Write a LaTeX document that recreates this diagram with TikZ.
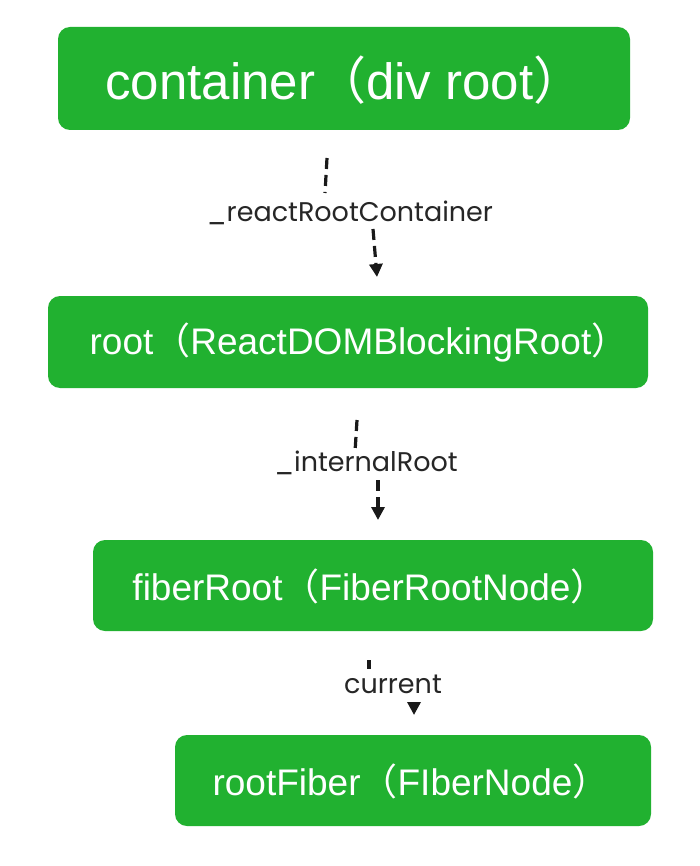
\documentclass[tikz,border=0pt]{standalone}
\usepackage{fontspec}
\setmainfont{Liberation Sans}
\newfontfamily\cjk{Noto Sans CJK SC}
\newfontfamily\lblfont{Poppins}
\usetikzlibrary{arrows.meta}
\definecolor{boxgreen}{RGB}{33,177,48}
\tikzset{
  box/.style={fill=boxgreen, draw=none, rounded corners=12pt, inner sep=0pt},
  boxtext/.style={text=white, inner sep=0pt, anchor=center},
  lbl/.style={font=\lblfont\fontsize{27}{31}\selectfont, inner sep=2pt, text=black!85},
  conn/.style={line width=3.2pt, dash pattern=on 11pt off 6pt, draw=black!90},
  connarrow/.style={conn, -{Triangle[length=13pt,width=13pt]}}
}
\begin{document}
\begin{tikzpicture}[x=1pt,y=-1pt]
\useasboundingbox (0,0) rectangle (700,866);
\fill[white] (0,0) rectangle (700,866);
% boxes
\node[box, minimum width=572pt, minimum height=103pt] (b1) at (344,78.5) {};
\node[boxtext, font=\fontsize{51}{57}\selectfont] (t1) at (345,80) {container{\cjk（}div root{\cjk）}};
\node[box, minimum width=600pt, minimum height=92pt] (b2) at (348,342) {};
\node[boxtext, font=\fontsize{37}{43}\selectfont] (t2) at (359,343) {root{\cjk（}ReactDOMBlockingRoot{\cjk）}};
\node[box, minimum width=560pt, minimum height=91pt] (b3) at (373,585.5) {};
\node[boxtext, font=\fontsize{37}{43}\selectfont] (t3) at (370,586) {fiberRoot{\cjk（}FiberRootNode{\cjk）}};
\node[box, minimum width=476pt, minimum height=91pt] (b4) at (413,780.5) {};
\node[boxtext, font=\fontsize{37}{43}\selectfont] (t4) at (411,781) {rootFiber{\cjk（}FIberNode{\cjk）}};
% labels
\node[lbl] (l1) at (350,213) {\_reactRootContainer};
\node[lbl] (l2) at (366,463) {\_internalRoot};
\node[lbl] (l3) at (393,684) {current};
% connector coordinates
\coordinate (c1a) at (327,158);
\coordinate (c1b) at (325,193);
\coordinate (c1c) at (373,229);
\coordinate (c1d) at (377,277);
\coordinate (c2a) at (357,420);
\coordinate (c2b) at (355,452);
\coordinate (c2c) at (378,480);
\coordinate (c2d) at (378,520);
\coordinate (c3a) at (369,660);
\coordinate (c3b) at (369,669);
\coordinate (c3c) at (414,702);
\coordinate (c3d) at (414,715);
\draw[conn] (c1a) -- (c1b);
\draw[connarrow] (c1c) -- (c1d);
\draw[conn] (c2a) -- (c2b);
\draw[connarrow] (c2c) -- (c2d);
\draw[conn] (c3a) -- (c3b);
\draw[connarrow] (c3c) -- (c3d);
\end{tikzpicture}
\end{document}
